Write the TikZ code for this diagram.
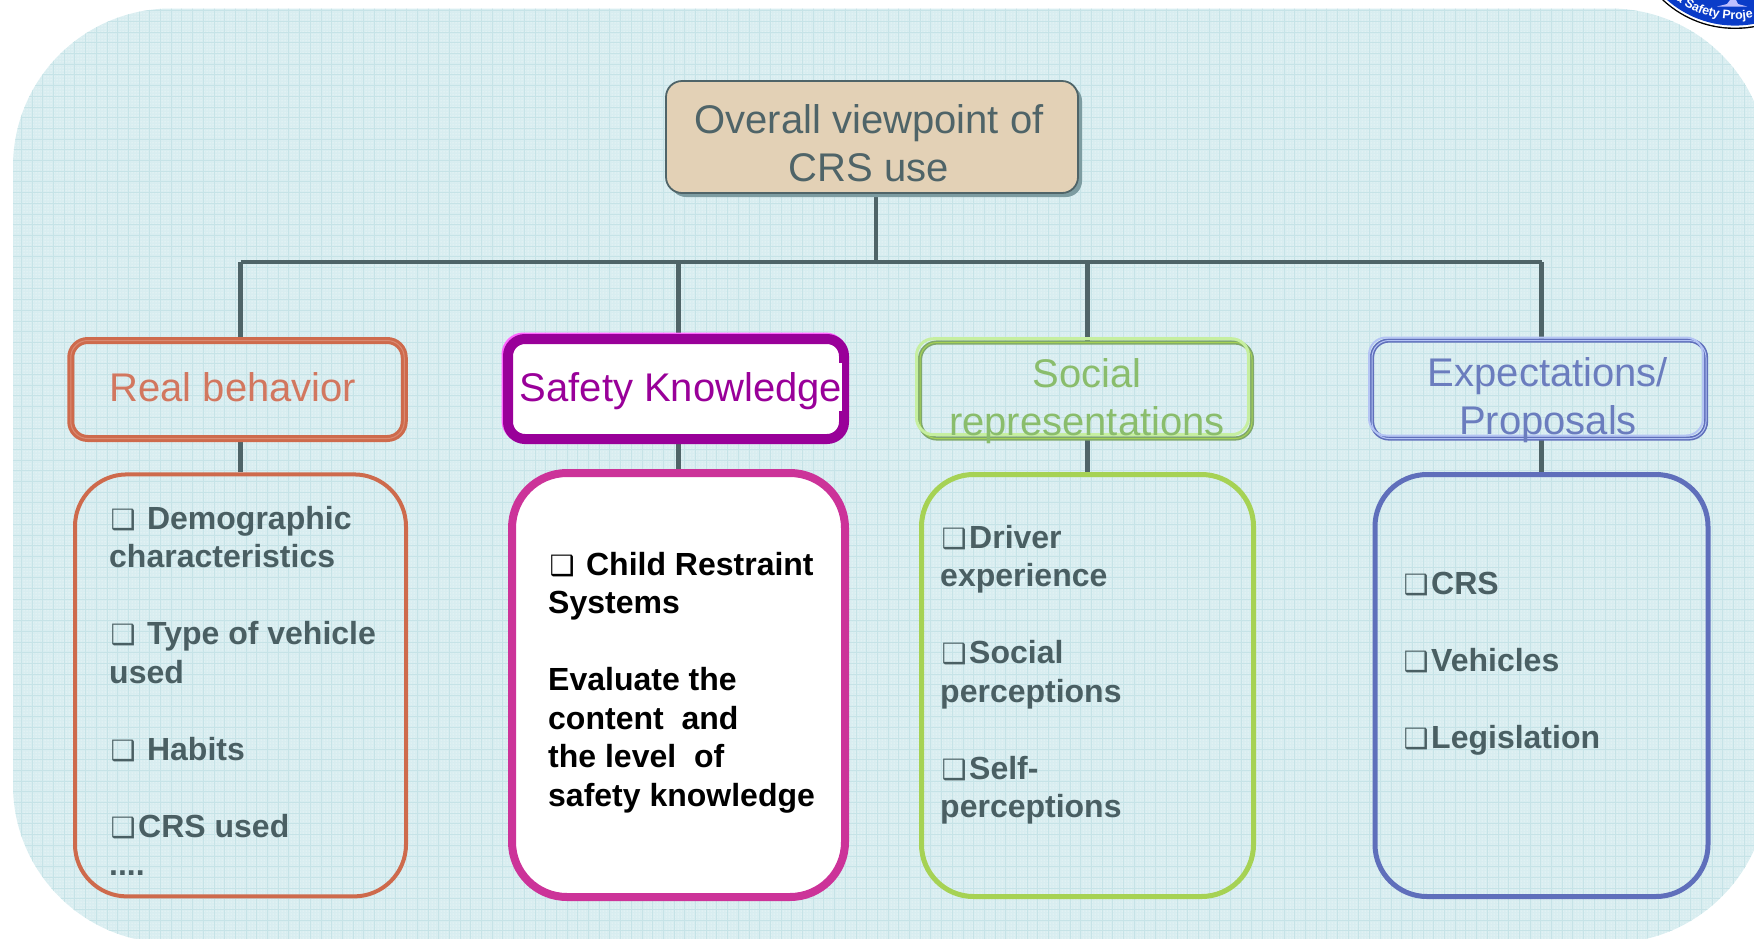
\documentclass[tikz,border=0pt]{standalone}
\usepackage{fontspec}
\setmainfont{Liberation Sans}
\newfontfamily\dejavu{DejaVu Sans}
\usetikzlibrary{backgrounds,decorations.text,patterns}

\definecolor{sheet}{HTML}{D8EDF0}
\definecolor{sheetline}{HTML}{C6E3E7}
\definecolor{linkgray}{HTML}{4F6468}
\definecolor{bodygray}{HTML}{4A5F63}
\definecolor{sand}{HTML}{E3D1B6}
\definecolor{sandshadow}{HTML}{7D9CA1}
\definecolor{realred}{HTML}{CE6A4C}
\definecolor{realpale}{HTML}{D98B73}
\definecolor{realtext}{HTML}{D2775F}
\definecolor{safetypurple}{HTML}{990099}
\definecolor{safetypink}{HTML}{FF66FF}
\definecolor{safetyrose}{HTML}{CC3399}
\definecolor{socialdark}{HTML}{7FA86A}
\definecolor{socialpale}{HTML}{C6EFA0}
\definecolor{socialmid}{HTML}{A6D254}
\definecolor{socialtext}{HTML}{8ABD6C}
\definecolor{expectdark}{HTML}{5F6FBB}
\definecolor{expectpale}{HTML}{B4C4F4}
\definecolor{expecttext}{HTML}{6B7DBE}
\definecolor{logoblue}{HTML}{0A3CC8}

\newcommand{\firstline}{\rule{0pt}{35pt}}
\newcommand{\itemline}{\rule{0pt}{30pt}}
\newcommand{\blt}{\makebox[29pt][l]{\hspace{1.5pt}\fontsize{28}{28}\dejavu\mdseries ❑}}

\tikzset{
	link/.style={draw=linkgray,line width=4.6pt},
	headbox/.style={rectangle,rounded corners=17pt,minimum width=#1,minimum height=98pt,inner sep=0pt},
	itembox/.style={rectangle,rounded corners=52pt,minimum width=333pt,minimum height=422pt,inner sep=0pt},
	headtext/.style={anchor=north,align=center,inner sep=0pt,font=\fontsize{40}{48}\selectfont},
	itemtext/.style={anchor=north west,align=left,inner sep=0pt,font=\fontsize{32}{38.5}\selectfont\bfseries}
}

\begin{document}
\begin{tikzpicture}[x=1pt,y=-1pt]
		\useasboundingbox (0,0) rectangle (1754,938);
		
		% overall box
		\node[headbox=412pt,minimum height=112pt,rounded corners=16pt,fill=sandshadow] (overallshadow) at (876,141) {};
		\node[headbox=412pt,minimum height=112pt,rounded corners=16pt,fill=sand,draw=linkgray,line width=1.8pt] (overall) at (872,137) {};
		\node[headtext,text=linkgray] (overalltitle) at (869,98) {\firstline Overall viewpoint of\\CRS use};
		
		% first column
		\node[headbox=333.5pt,draw=realred,line width=3pt,double=realpale,double distance=1pt] (real) at (237.5,389.5) {};
		\node[headtext,text=realtext] (realtitle) at (233,366) {\firstline Real behavior};
		\node[itembox,minimum width=331pt,draw=realred,line width=4pt] (realitems) at (240.5,685.4) {};
		\node[itemtext,text=bodygray] (reallist) at (109,499) {\itemline\blt\ Demographic\\characteristics\\[38.5pt]
			\blt\ Type of vehicle\\used\\[38.5pt]
			\blt\ Habits\\[38.5pt]
			\blt CRS used\\....};
		
		% second column
		\node[headbox=336pt,minimum height=100pt,draw=safetypink,line width=10pt] (safetyedge) at (674.5,387.5) {};
		\node[headbox=336pt,minimum height=100pt,fill=white,draw=safetypurple,line width=10pt] (safety) at (676,389) {};
		\node[fill=white,inner sep=0pt,text height=39pt,text depth=9pt,text=safetypurple,font=\fontsize{40}{48}\selectfont] (safetytitle) at (681,386.7) {Safety Knowledge};
		\node[itembox,minimum height=424pt,rounded corners=55pt,fill=white,draw=safetyrose,line width=8pt] (safetyitems) at (678.5,685) {};
		\node[itemtext] (safetylist) at (548,545) {\itemline\blt\ Child Restraint\\Systems\\[38.5pt]
			Evaluate the\\content\ \ and\\the level\ \ of\\safety knowledge};
		
		% third column
		\node[headbox=332pt,minimum height=96pt,draw=socialdark,line width=1.6pt,double=socialmid,double distance=1pt] (social) at (1086,390.5) {};
		\node[headbox=332pt,minimum height=96pt,draw=socialpale,line width=3pt] (socialedge) at (1082.5,386.7) {};
		\node[headtext,text=socialtext] (socialtitle) at (1087,352.5) {\firstline Social\\representations};
		\node[itembox,minimum width=332pt,draw=socialmid,line width=5pt] (socialitems) at (1087.5,685.5) {};
		\node[itemtext,text=bodygray] (sociallist) at (940,518) {\itemline\blt Driver\\experience\\[38.5pt]
			\blt Social\\perceptions\\[38.5pt]
			\blt Self-\\perceptions};
		
		% fourth column
		\node[headbox=334pt,draw=expectdark,line width=1.6pt,double=expectpale,double distance=1pt] (expect) at (1539,389.5) {};
		\node[headbox=334pt,draw=expectpale,line width=2pt] (expectedge) at (1536,386.5) {};
		\node[headtext,text=expecttext] (expecttitle) at (1548,351.5) {\firstline Expectations/\\Proposals};
		\node[itembox,draw=expectdark,line width=5pt] (expectitems) at (1541.5,685.5) {};
		\node[itemtext,text=bodygray] (expectlist) at (1402,564) {\itemline\blt CRS\\[38.5pt]
			\blt Vehicles\\[38.5pt]
			\blt Legislation};
		
		% sheet and connectors go under the boxes
		\begin{scope}[on background layer]
			\fill[sheet,rounded corners=158pt] (13,8.5) rectangle (1768,943);
			\begin{scope}
				\clip[rounded corners=158pt] (13,8.5) rectangle (1768,943);
				\fill[pattern=dots,pattern color=white] (0,0) rectangle (1770,945);
				\draw[sheetline,line width=0.9pt,step=10.7pt] (0,0) grid (1770,945);
			\end{scope}
			\coordinate (bar) at (876,262);
			\draw[link] (overall.south -| bar) -- (bar);
			\draw[link] (realitems.north |- bar) -- (expectitems.north |- bar);
			\foreach \col in {real,safety,social,expect} {
				\draw[link] (\col items.north |- \col.north) -- (\col items.north |- bar);
				\draw[link] (\col items.north) -- (\col items.north |- \col.south);
			}
		\end{scope}
		
		% logo in the corner
		\coordinate (logo) at (1735,-77.4);
		\fill[black] (logo) circle (106.4);
		\fill[white] (logo) circle (105);
		\fill[logoblue] (logo) circle (103);
		\fill[blue!25!white] (1730,0) -- (1736,0) -- (1738,4) -- (1747,6.5) -- (1717,6.5) -- (1727,4) -- cycle;
		\path[decorate,decoration={text along path,text align={left},text={|\fontsize{12.5}{12.5}\selectfont\bfseries\color{white}|a Safety Proje}}] (logo) ++(128:97) arc[start angle=128,end angle=60,radius=97];
\end{tikzpicture}
\end{document}
